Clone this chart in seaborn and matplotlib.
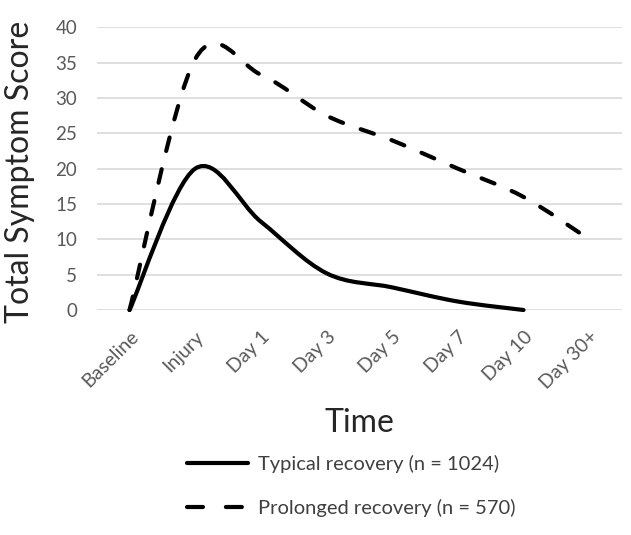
import numpy as np
import pandas as pd
import seaborn as sns
import matplotlib.pyplot as plt
from matplotlib.path import Path
from matplotlib.patches import PathPatch
from matplotlib.lines import Line2D

# Data
time_labels = ["Baseline", "Injury", "Day 1", "Day 3", "Day 5", "Day 7", "Day 10", "Day 30+"]
typical = [0, 20, 12.5, 5.2, 3.2, 1.2, 0]
prolonged = [0, 35.5, 33.3, 27.5, 24, 20, 16, 10]
series_names = ["Typical recovery (n = 1024)", "Prolonged recovery (n = 570)"]
y_ticks = [0, 5, 10, 15, 20, 25, 30, 35, 40]


def smooth_path(values):
    # Excel style smoothed line: one cubic bezier between each pair of points
    pts = np.column_stack([np.arange(len(values), dtype=float),
                           np.asarray(values, dtype=float)])
    n = len(pts)
    verts = [pts[0]]
    codes = [Path.MOVETO]
    for i in range(n - 1):
        p0 = pts[max(i - 1, 0)]
        p1 = pts[i]
        p2 = pts[i + 1]
        p3 = pts[min(i + 2, n - 1)]
        verts += [p1 + (p2 - p0) / 6, p2 - (p3 - p1) / 6, p2]
        codes += [Path.CURVE4] * 3
    return Path(verts, codes)


sns.set_theme(style="whitegrid")
plt.rcParams['font.family'] = ['Lato', 'DejaVu Sans']
plt.rcParams['lines.scale_dashes'] = False

fig = plt.figure(figsize=(6.31, 5.35), dpi=100)
fig.patch.set_facecolor("white")
ax = fig.add_axes([96.7 / 631, 1 - 310 / 535, (622 - 96.7) / 631, (310 - 27.3) / 535])
ax.set_facecolor("white")

solid_style = dict(color="black", lw=3, capstyle="round", joinstyle="round")
dash_style = dict(color="black", lw=3, capstyle="round", joinstyle="round",
                  linestyle=(0, (10, 13.5)))

ax.add_patch(PathPatch(smooth_path(typical), fill=False, clip_on=False, zorder=3, **solid_style))
ax.add_patch(PathPatch(smooth_path(prolonged), fill=False, clip_on=False, zorder=3, **dash_style))

ax.set_xlim(-0.5, len(time_labels) - 0.5)
ax.set_ylim(0, 40)
ax.set_xticks(range(len(time_labels)))
ax.set_xticklabels(time_labels, rotation=45, ha="right", rotation_mode="anchor")
ax.set_yticks(y_ticks)
ax.tick_params(axis="x", length=0, pad=13, labelsize=14, labelcolor="#595959")
ax.tick_params(axis="y", length=0, pad=14, labelsize=13.5, labelcolor="#595959")
ax.xaxis.grid(False)
ax.yaxis.grid(True, color="#d9d9d9", lw=1.2)
ax.set_xlabel("")
ax.set_ylabel("")
sns.despine(ax=ax, left=True, bottom=True)

fig.text(20 / 631, 1 - 172 / 535, "Total Symptom Score", rotation=90,
         ha="center", va="center", fontsize=23, color="#262626")
fig.text(359 / 631, 1 - 432 / 535, "Time", ha="center", va="baseline",
         fontsize=23, color="#262626")

handles = [
    Line2D([], [], color="black", lw=3, solid_capstyle="round"),
    Line2D([], [], color="black", lw=3, dash_capstyle="round", linestyle=(0, (11.5, 16.5))),
]
fig.legend(handles, series_names, loc="center left",
           bbox_to_anchor=(187 / 631, 1 - 486 / 535), frameon=False,
           fontsize=14.5, handlelength=3.03, handletextpad=0.5, labelspacing=1.25,
           borderpad=0, borderaxespad=0, labelcolor="#404040")

fig.savefig("out.png", dpi=100, facecolor="white")
